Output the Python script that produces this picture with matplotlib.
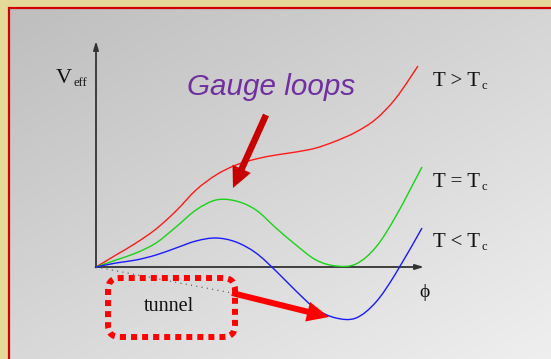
import numpy as np
import matplotlib
matplotlib.use("Agg")
import matplotlib.pyplot as plt
from matplotlib.patches import FancyBboxPatch, FancyArrow, PathPatch
from matplotlib.path import Path

# ---- data (phi, V_eff) ----
red_phi = [0, 0.2, 0.4, 0.6, 0.8, 1.0, 1.2, 1.4, 1.6, 1.8, 2.0, 2.2, 2.4, 2.6, 2.8, 3.0, 3.22]
red_v = [0, 0.12, 0.24, 0.38, 0.56, 0.77, 0.92, 1.02, 1.08, 1.12, 1.15, 1.19, 1.26, 1.35, 1.48, 1.69, 2.01]

green_phi = [0, 0.2, 0.4, 0.6, 0.8, 1.0, 1.2, 1.4, 1.6, 1.8, 2.0, 2.2, 2.4, 2.6, 2.8, 3.0, 3.26]
green_v = [0, 0.07, 0.14, 0.24, 0.40, 0.57, 0.67, 0.66, 0.57, 0.39, 0.22, 0.07, 0.01, 0.03, 0.20, 0.51, 1.0]

blue_phi = [0, 0.2, 0.4, 0.6, 0.8, 1.0, 1.2, 1.4, 1.6, 1.8, 2.0, 2.2, 2.4, 2.6, 2.8, 3.0, 3.26]
blue_v = [0, 0.04, 0.07, 0.12, 0.19, 0.26, 0.29, 0.25, 0.14, -0.04, -0.24, -0.42, -0.51, -0.51, -0.35, -0.06, 0.39]

curve_labels = ["T > T", "T = T", "T < T"]

W, H = 551, 359
fig = plt.figure(figsize=(W / 100, H / 100), dpi=100)
fig.patch.set_facecolor("#e5d999")
ax = fig.add_axes([0, 0, 1, 1])
ax.set_axis_off()

def P(px, py):
    return ((px - 96) / 100.0, (267 - py) / 100.0)

x0, y1 = P(0, 0)
x1, y0 = P(W, H)
ax.set_xlim(x0, x1)
ax.set_ylim(y0, y1)

# gradient panel
gx = np.linspace(0, 1, 200)
gy = np.linspace(0, 1, 150)
GX, GY = np.meshgrid(gx, gy)
val = (190 + 23 * GX + 26 * GY) / 255.0
img = np.dstack([val, val, val])
ex0, ey0 = P(10, 8)
ex1, ey1 = P(W, H)
ax.imshow(img, extent=(ex0, ex1, ey1, ey0), origin="upper", aspect="auto", zorder=0)
bx, by = P(9, 7.5)
ax.plot([bx, bx, x1 + 1], [y0 - 1, by, by], color="#d40000", lw=1.6, zorder=1,
        solid_joinstyle="miter")

# axes arrows
ox, oy = P(96, 267)
ax.annotate("", xy=P(424, 267), xytext=(ox - 0.005, oy),
            arrowprops=dict(arrowstyle="-|>,head_length=0.5,head_width=0.15", color="#333333", lw=1.3,
                            shrinkA=0, shrinkB=0), zorder=3)
ax.annotate("", xy=P(96, 41), xytext=(ox, oy - 0.005),
            arrowprops=dict(arrowstyle="-|>,head_length=0.5,head_width=0.15", color="#333333", lw=1.3,
                            shrinkA=0, shrinkB=0), zorder=3)


def smooth_path(xs, ys):
    pts = np.column_stack([xs, ys]).astype(float)
    n = len(pts)
    verts = [pts[0]]
    codes = [Path.MOVETO]
    for i in range(n - 1):
        p0 = pts[max(i - 1, 0)]
        p1 = pts[i]
        p2 = pts[i + 1]
        p3 = pts[min(i + 2, n - 1)]
        c1 = p1 + (p2 - p0) / 6.0
        c2 = p2 - (p3 - p1) / 6.0
        verts += [c1, c2, p2]
        codes += [Path.CURVE4] * 3
    return Path(verts, codes)


for xs, ys, col in [(red_phi, red_v, "#ff1a1a"), (green_phi, green_v, "#19d219"),
                    (blue_phi, blue_v, "#1a1aff")]:
    ax.add_patch(PathPatch(smooth_path(xs, ys), fill=False, edgecolor=col, lw=1.0, zorder=4))

serif = ["Liberation Serif", "DejaVu Serif"]

ax.text(*P(56, 83), "V", fontsize=16, family=serif, ha="left", va="baseline", color="#111111")
ax.text(*P(73, 86), "eff", fontsize=9, family=serif, ha="left", va="baseline", color="#111111")
ax.text(*P(425, 297), "\u03d5", fontsize=14, family=serif, ha="center", va="baseline", color="#111111")

for lab, by_ in zip(curve_labels, [86, 187, 247]):
    ax.text(*P(433, by_), lab, fontsize=15, family=serif, ha="left", va="baseline", color="#111111")
    ax.text(*P(482, by_ + 3), "c", fontsize=9, family=serif, ha="left", va="baseline", color="#111111")

ax.text(*P(271, 95), "Gauge loops", fontsize=21.3, family=["Liberation Sans", "DejaVu Sans"],
        style="italic", color="#7030a0", ha="center", va="baseline")

tx, ty = P(266, 115)
hx, hy = P(233, 188)
ax.add_patch(FancyArrow(tx, ty, hx - tx, hy - ty, width=0.065, head_width=0.2, head_length=0.21,
                        length_includes_head=True, color="#c80000", lw=0, zorder=5))

bx0, by0 = P(108, 337)
bx1, by1 = P(235, 278)
box = FancyBboxPatch((bx0, by0), bx1 - bx0, by1 - by0, boxstyle="round,pad=0,rounding_size=0.12",
                     fill=False, edgecolor="#ff0000", lw=4.3, zorder=5)
box.set_linestyle((0, (1.0, 0.85)))
box.set_capstyle("butt")
ax.add_patch(box)
ax.text(*P(169, 311), "tunnel", fontsize=14.5, family=serif, ha="center", va="baseline", color="#111111")

ax.plot([ox, P(232, 293)[0]], [oy, P(232, 293)[1]], color="#555555", lw=0.9,
        linestyle=(0, (0.8, 3.5)), zorder=3)

tx, ty = P(232, 293)
hx, hy = P(329, 317)
ax.add_patch(FancyArrow(tx, ty, hx - tx, hy - ty, width=0.06, head_width=0.2, head_length=0.22,
                        length_includes_head=True, color="#ff0000", lw=0, zorder=5))

fig.savefig("out.png", dpi=100)
